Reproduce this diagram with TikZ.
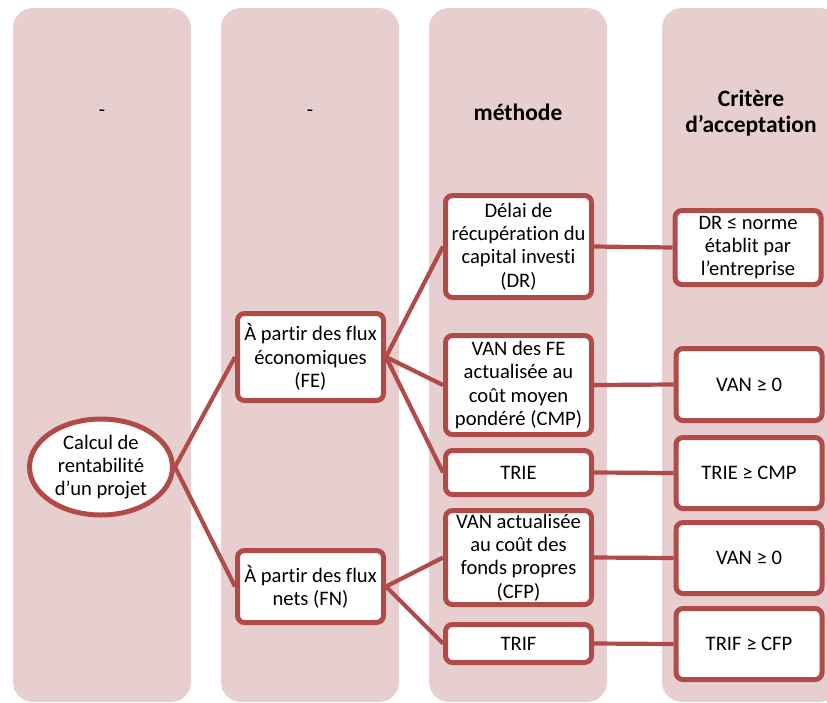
\documentclass[tikz,border=0pt]{standalone}
\usepackage{fontspec}
\setmainfont{Carlito}[Ligatures=NoCommon]
\usetikzlibrary{shapes.geometric}
\definecolor{bgpink}{RGB}{231,207,208}
\definecolor{boxred}{RGB}{176,75,73}
\begin{document}
\begin{tikzpicture}[x=1pt,y=-1pt,
  colbg/.style={fill=bgpink,rounded corners=20pt},
  hdr/.style={font=\fontsize{23.5}{26}\selectfont\bfseries,align=center},
  hyphtxt/.style={font=\fontsize{20.5}{23}\selectfont},
  box/.style={draw=boxred,line width=5pt,fill=white,rounded corners=7pt,align=center,
    inner sep=0pt,minimum width=146pt,font=\fontsize{20.6}{23.3}\selectfont},
  oval/.style={draw=boxred,line width=5pt,fill=white,ellipse,align=center,inner sep=0pt,
    minimum width=143pt,minimum height=96pt,font=\fontsize{20.6}{23.3}\selectfont},
  link/.style={draw=boxred,line width=4.2pt}]
\path[use as bounding box,clip] (0,0) rectangle (827,702);
% columns
\fill[colbg] (13,8) rectangle (191,702);
\fill[colbg] (221,8) rectangle (399,702);
\fill[colbg] (429,8) rectangle (607,702);
\fill[colbg] (662,8) rectangle (840,702);
% headers
\node[hyphtxt] (h1) at (102,113) {-};
\node[hyphtxt] (h2) at (310,113) {-};
\node[hdr] (h3) at (518,112) {méthode};
\node[hdr] (h4) at (751,113) {Critère\\d’acceptation};
% nodes
\node[oval] (root) at (101,467) {Calcul de\\rentabilité\\d’un projet};
\node[box,minimum height=87pt] (fe) at (310.5,357) {À partir des flux\\économiques\\(FE)};
\node[box,minimum height=72pt] (fn) at (310.5,586.5) {À partir des flux\\nets (FN)};
\node[box,minimum height=102pt] (dr) at (518.5,246.5) {Délai de\\récupération du\\capital investi\\(DR)};
\node[box,minimum height=99pt] (vanfe) at (518.5,385) {VAN des FE\\actualisée au\\coût moyen\\pondéré (CMP)};
\node[box,minimum height=44pt] (trie) at (518.5,472.5) {TRIE};
\node[box,minimum height=94pt] (vancfp) at (518.5,557.5) {VAN actualisée\\au coût des\\fonds propres\\(CFP)};
\node[box,minimum height=38pt] (trif) at (518.5,643.5) {TRIF};
\node[box,minimum height=74pt] (c1) at (748,247.5) {DR ≤ norme\\établit par\\l’entreprise};
\node[box,minimum height=72pt] (c2) at (749,384.5) {VAN ≥ 0};
\node[box,minimum height=71pt] (c3) at (749,473) {TRIE ≥ CMP};
\node[box,minimum height=71pt] (c4) at (749,558) {VAN ≥ 0};
\node[box,minimum height=71pt] (c5) at (749,644) {TRIF ≥ CFP};
% connectors
\draw[link] (root.east) -- (fe.west);
\draw[link] (root.east) -- (fn.west);
\draw[link] (fe.east) -- (dr.west);
\draw[link] (fe.east) -- (vanfe.west);
\draw[link] (fe.east) -- (trie.west);
\draw[link] (fn.east) -- (vancfp.west);
\draw[link] (fn.east) -- (trif.west);
\draw[link] (dr.east) -- (c1.west);
\draw[link] (vanfe.east) -- (c2.west);
\draw[link] (trie.east) -- (c3.west);
\draw[link] (vancfp.east) -- (c4.west);
\draw[link] (trif.east) -- (c5.west);
\end{tikzpicture}
\end{document}
